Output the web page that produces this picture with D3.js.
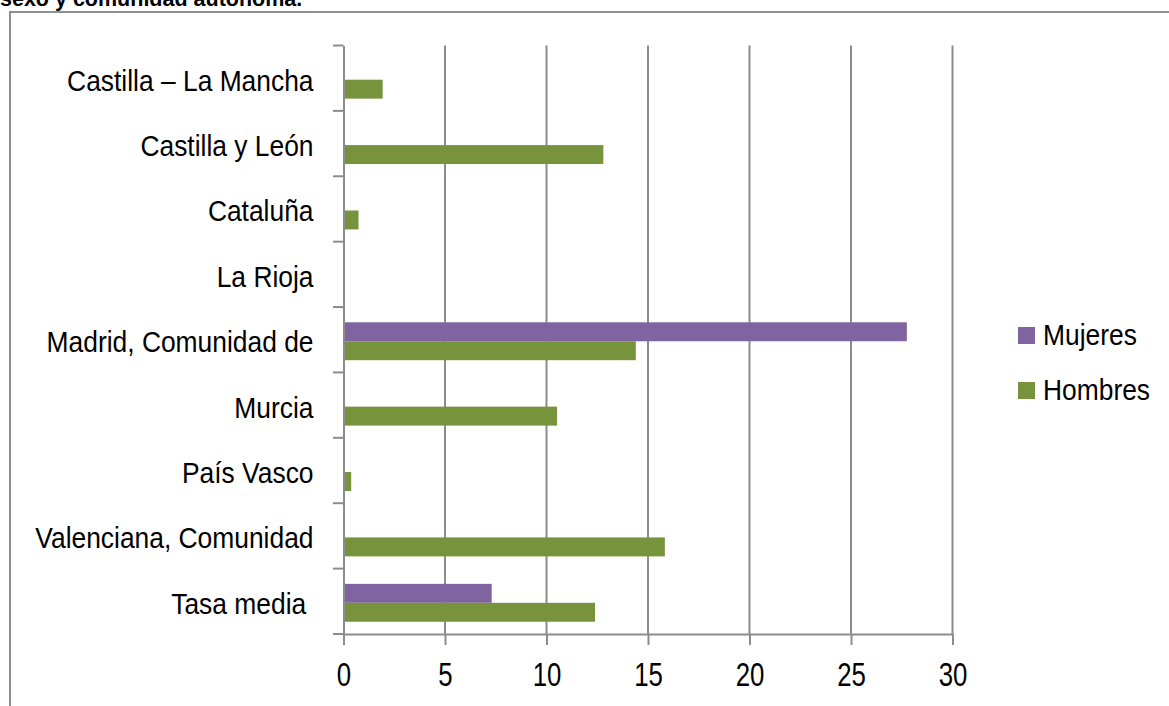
<!DOCTYPE html>
<html>
<head>
<meta charset="utf-8">
<script src="https://cdn.jsdelivr.net/npm/d3@7"></script>
<style>
  html, body { margin: 0; padding: 0; background: #fff; }
  svg { display: block; }
  text { font-family: "Liberation Sans", Arial, sans-serif; fill: #000; }
</style>
</head>
<body>
<svg id="chart" width="1169" height="706"></svg>
<script>
const titleText = "sexo y comunidad autónoma.";
const categories = [
  "Castilla – La Mancha",
  "Castilla y León",
  "Cataluña",
  "La Rioja",
  "Madrid, Comunidad de",
  "Murcia",
  "País Vasco",
  "Valenciana, Comunidad",
  "Tasa media"
];
const seriesNames = ["Mujeres", "Hombres"];
const mujeres = [0, 0, 0, 0, 27.75, 0, 0, 0, 7.3];
const hombres = [1.93, 12.8, 0.74, 0, 14.4, 10.52, 0.38, 15.83, 12.39];
const xTickValues = [0, 5, 10, 15, 20, 25, 30];
const seriesColors = ["#8064A2", "#77933C"];

const svg = d3.select("#chart");
const gridColor = "#8c8c8c";

// outer frame
svg.append("rect")
  .attr("x", 10).attr("y", 12)
  .attr("width", 1180).attr("height", 720)
  .attr("fill", "none").attr("stroke", "#8f8f8f").attr("stroke-width", 2);

// title (cut at top)
svg.append("text")
  .attr("x", 0).attr("y", 6)
  .attr("font-size", 21.5).attr("font-weight", "bold")
  .text(titleText);

const x = d3.scaleLinear().domain([0, 30]).range([343.5, 952.5]);
const y = d3.scaleBand().domain(categories).range([45.5, 634]).padding(0);
const bw = y.bandwidth();
const barH = bw / 3.45;
const sub = d3.scaleBand().domain(seriesNames)
  .range([bw / 2 - barH + 1.5, bw / 2 + barH + 1.5]).padding(0);
const color = d3.scaleOrdinal().domain(seriesNames).range(seriesColors);

// gridlines
svg.append("g").selectAll("line")
  .data(xTickValues.filter(d => d > 0))
  .join("line")
  .attr("x1", d => x(d)).attr("x2", d => x(d))
  .attr("y1", y.range()[0]).attr("y2", y.range()[1])
  .attr("stroke", gridColor).attr("stroke-width", 2);

// bars
const rows = categories.map((c, i) => ({ cat: c, Mujeres: mujeres[i], Hombres: hombres[i] }));
const g = svg.append("g");
rows.forEach(r => {
  seriesNames.forEach(s => {
    if (r[s] > 0) {
      g.append("rect")
        .attr("x", x(0))
        .attr("y", y(r.cat) + sub(s))
        .attr("width", x(r[s]) - x(0))
        .attr("height", sub.bandwidth())
        .attr("fill", color(s));
    }
  });
});

// x axis
const xAxis = svg.append("g")
  .attr("transform", `translate(0,${y.range()[1]})`)
  .call(d3.axisBottom(x).tickValues(xTickValues).tickSize(11).tickPadding(17).tickSizeOuter(0));
xAxis.select(".domain").attr("stroke", gridColor).attr("stroke-width", 2);
xAxis.selectAll(".tick line").attr("stroke", gridColor).attr("stroke-width", 2);
xAxis.selectAll(".tick text")
  .attr("font-size", 33.5)
  .attr("font-family", "Liberation Sans, Arial, sans-serif")
  .attr("fill", "#000")
  .attr("transform", "scale(0.77,1)");

// y axis
const lblScale = 0.91;
const yAxis = svg.append("g")
  .attr("transform", `translate(${x(0)},0)`)
  .call(d3.axisLeft(y).tickSize(0).tickPadding(30).tickSizeOuter(0));
yAxis.select(".domain").attr("stroke", gridColor).attr("stroke-width", 2);
yAxis.selectAll(".tick text")
  .attr("font-size", 29)
  .attr("font-family", "Liberation Sans, Arial, sans-serif")
  .attr("fill", "#000")
  .attr("x", -30 / lblScale)
  .attr("dy", "0.43em")
  .style("white-space", "pre")
  .text(d => d === "Tasa media" ? d + " " : d)
  .attr("transform", `scale(${lblScale},1)`);

// category boundary tick marks
const bounds = categories.map(c => y(c)).concat([y.range()[1]]);
svg.append("g").selectAll("line")
  .data(bounds)
  .join("line")
  .attr("x1", x(0) - 10.5).attr("x2", x(0))
  .attr("y1", d => d).attr("y2", d => d)
  .attr("stroke", gridColor).attr("stroke-width", 2);

// legend
const legend = svg.append("g");
seriesNames.forEach((s, i) => {
  const ly = 327 + i * 55;
  legend.append("rect")
    .attr("x", 1018).attr("y", ly)
    .attr("width", 17).attr("height", 17)
    .attr("fill", color(s));
  legend.append("text")
    .attr("transform", `translate(1043,${ly + 18}) scale(${lblScale},1)`)
    .attr("font-size", 29)
    .text(s);
});
</script>
</body>
</html>
